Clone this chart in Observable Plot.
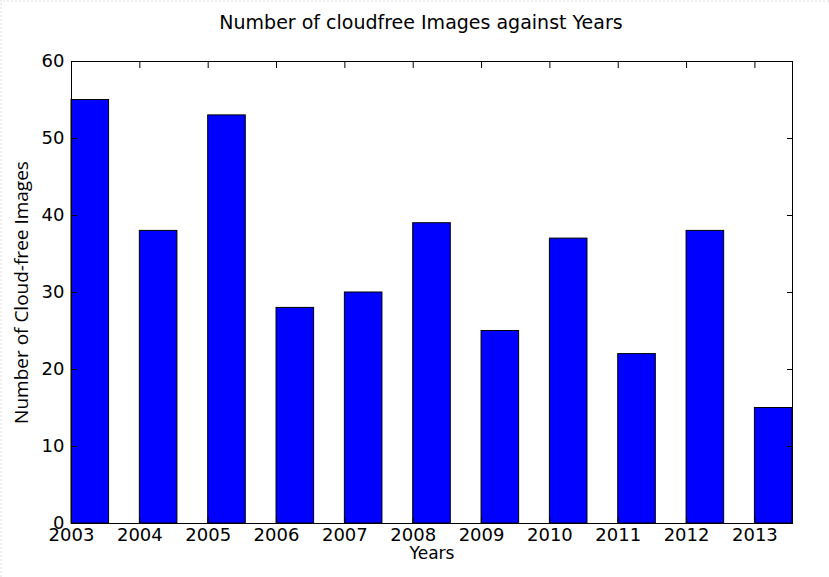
<!DOCTYPE html>
<html>
<head>
<meta charset="utf-8">
<script src="https://cdn.jsdelivr.net/npm/d3@7"></script>
<script src="https://cdn.jsdelivr.net/npm/@observablehq/plot@0.6"></script>
<style>
  body { margin: 0; background: #fff; }
  #page { position: relative; width: 829px; height: 577px; overflow: hidden; }
  #edge { position: absolute; left: 0; top: 0; right: 0; bottom: 0;
          border-top: 2px dotted #eeeeee; border-left: 2px dotted #eeeeee; pointer-events: none; }
  #title { height: 40px; box-sizing: border-box; padding-left: 13px; padding-top: 11px;
           font: 19px "DejaVu Sans", sans-serif; color: #000; text-align: center; line-height: 22px; }
  svg { display: block; }
</style>
</head>
<body>
<div id="page">
  <div id="title">Number of cloudfree Images against Years</div>
  <div id="chart"></div>
  <div id="edge"></div>
</div>
<script>
// Yearly counts of cloud-free images
const years = [2003, 2004, 2005, 2006, 2007, 2008, 2009, 2010, 2011, 2012, 2013];
const counts = [55, 38, 53, 28, 30, 39, 25, 37, 22, 38, 15];
const yTicks = [0, 10, 20, 30, 40, 50, 60];
const barWidth = 0.55;
const xLabel = "Years";
const yLabel = "Number of Cloud-free Images";

const data = years.map((year, i) => ({year, count: counts[i]}));
const font = "'DejaVu Sans', sans-serif";

const chart = Plot.plot({
  width: 829,
  height: 537,
  marginTop: 21,
  marginBottom: 54,
  marginLeft: 71,
  marginRight: 37,
  style: {fontFamily: font, fontSize: "18px", color: "#000", background: "#fff"},
  x: {domain: [years[0], years[years.length - 1] + barWidth]},
  y: {domain: [0, 60]},
  marks: [
    Plot.rect(data, {
      x1: "year",
      x2: d => d.year + barWidth,
      y1: () => 0,
      y2: "count",
      fill: "#0000ff",
      stroke: "#000",
      strokeWidth: 1
    }),
    Plot.frame({stroke: "#000", strokeWidth: 1}),
    // tick labels
    Plot.axisX({anchor: "bottom", ticks: years, tickSize: 0, tickPadding: 5,
                tickFormat: d => String(d), label: null, fill: "#000"}),
    Plot.axisY({anchor: "left", ticks: yTicks, tickSize: 0, tickPadding: 7,
                tickFormat: d => String(d), label: null, fill: "#000"}),
    // inward tick marks on all four sides
    Plot.axisX({anchor: "bottom", ticks: years, tickSize: -6, tickFormat: () => "", label: null, stroke: "#000"}),
    Plot.axisX({anchor: "top", ticks: years, tickSize: -6, tickFormat: () => "", label: null, stroke: "#000"}),
    Plot.axisY({anchor: "left", ticks: yTicks, tickSize: -6, tickFormat: () => "", label: null, stroke: "#000"}),
    Plot.axisY({anchor: "right", ticks: yTicks, tickSize: -6, tickFormat: () => "", label: null, stroke: "#000"}),
    // axis titles
    Plot.text([xLabel], {text: d => d, frameAnchor: "bottom", dy: 23, lineAnchor: "top",
                         fontSize: 17, fontFamily: font, fill: "#000"}),
    Plot.text([yLabel], {text: d => d, frameAnchor: "left", dx: -50, rotate: -90,
                         textAnchor: "middle", lineAnchor: "middle",
                         fontSize: 19, fontFamily: "'Open Sans', sans-serif", fill: "#000",
                         ariaLabel: "y-title"})
  ]
});

document.getElementById("chart").appendChild(chart);

// condensed y-axis title
d3.select(chart).selectAll('g[aria-label="y-title"] text')
  .attr("textLength", 235)
  .attr("lengthAdjust", "spacingAndGlyphs");
</script>
</body>
</html>
